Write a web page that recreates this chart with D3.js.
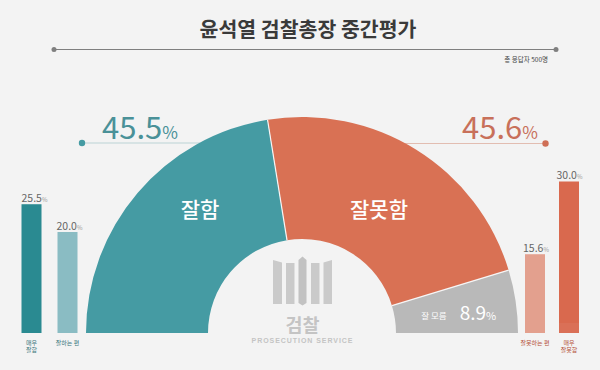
<!DOCTYPE html>
<html>
<head>
<meta charset="utf-8">
<script src="https://cdn.jsdelivr.net/npm/d3@7"></script>
<style>
  html, body { margin: 0; padding: 0; background: #f3f3f3; }
  svg { display: block; }
  text { font-family: "Noto Sans CJK KR", "Noto Sans", sans-serif; }
</style>
</head>
<body>
<script>
//main half donut data
var mainNames = ["잘함", "잘못함", "잘 모름"];
var mainValues = [45.5, 45.6, 8.9];
//the slices in the picture are not drawn quite to the printed numbers, these are the shares as drawn
var mainDrawn = [44.9, 45.7, 9.4];

//detail bars data
var barNames = ["매우 잘함", "잘하는 편", "잘못하는 편", "매우 잘못함"];
var barValues = [25.5, 20.0, 15.6, 30.0];
var barLines = [["매우", "잘함"], ["잘하는 편"], ["잘못하는 편"], ["매우", "잘못함"]];

var title = "윤석열 검찰총장 중간평가";
var sampleNote = "총 응답자 500명";
var logoName = "검찰";
var logoSub = "PROSECUTION SERVICE";

var width = 600, height = 370;
var baseY = 333;
var rInner = 94, rOuter = 216;

var mainColor = d3.scaleOrdinal().domain(mainNames).range(["#459ba3", "#d97154", "#b9b9b9"]);
var barColor = d3.scaleOrdinal().domain(barNames).range(["#2a8a91", "#8abcc3", "#e3a08e", "#d9694e"]);
var barText = d3.scaleOrdinal().domain(barNames).range(["#3a767c", "#3a767c", "#b5523a", "#b5523a"]);
var barX = d3.scaleOrdinal().domain(barNames).range([21.5, 57.5, 525, 559]);
var valueX = d3.scaleOrdinal().domain(barNames).range([21.5, 56.5, 523, 556.5]);
var barY = d3.scaleLinear().domain([0, 30]).range([baseY, 181.5]);
var barWidth = 20;

const svg = d3.select("body")
    .append("svg")
    .attr("width", width)
    .attr("height", height);

svg.append("rect")
    .attr("width", width)
    .attr("height", height)
    .attr("fill", "#f3f3f3");

//title and rule
svg.append("text")
    .attr("x", 308)
    .attr("y", 36.5)
    .attr("text-anchor", "middle")
    .attr("font-size", 20.5)
    .attr("font-weight", 700)
    .attr("fill", "#3a3a3a")
    .text(title);

svg.append("line")
    .attr("x1", 54).attr("x2", 556)
    .attr("y1", 49.5).attr("y2", 49.5)
    .attr("stroke", "#7f7f7f")
    .attr("stroke-width", 1);

svg.selectAll(".ruleDot")
    .data([54, 556])
    .enter().append("circle")
    .attr("class", "ruleDot")
    .attr("cx", d => d)
    .attr("cy", 49.5)
    .attr("r", 2.5)
    .attr("fill", "#7f7f7f");

svg.append("text")
    .attr("x", 548)
    .attr("y", 62)
    .attr("text-anchor", "end")
    .attr("font-size", 6.5)
    .attr("fill", "#444")
    .text(sampleNote);

//leader lines sit under the donut
var leaders = [
    {x1: 82, x2: 200, y: 143, color: "#bcd4d6", dot: "#459ba3"},
    {x1: 545.5, x2: 405, y: 143.5, color: "#e2bdb1", dot: "#cf6f56"}
];

svg.selectAll(".leader")
    .data(leaders)
    .enter().append("line")
    .attr("class", "leader")
    .attr("x1", d => d.x1).attr("x2", d => d.x2)
    .attr("y1", d => d.y).attr("y2", d => d.y)
    .attr("stroke", d => d.color)
    .attr("stroke-width", 1.2);

svg.selectAll(".leaderDot")
    .data(leaders)
    .enter().append("circle")
    .attr("class", "leaderDot")
    .attr("cx", d => d.x1)
    .attr("cy", d => d.y)
    .attr("r", 3.2)
    .attr("fill", d => d.dot);

//half donut
var pie = d3.pie()
    .sort(null)
    .startAngle(-Math.PI / 2)
    .endAngle(Math.PI / 2);

var arc = d3.arc()
    .innerRadius(rInner)
    .outerRadius(rOuter);

var donut = svg.append("g")
    .attr("transform", `translate(302,${baseY})`);

donut.selectAll("path")
    .data(pie(mainDrawn))
    .enter().append("path")
    .attr("d", arc)
    .attr("fill", (d, i) => mainColor(mainNames[i]));

//separators between the slices
donut.selectAll("line")
    .data(pie(mainDrawn).slice(1))
    .enter().append("line")
    .attr("x1", d => rInner * Math.sin(d.startAngle))
    .attr("y1", d => -rInner * Math.cos(d.startAngle))
    .attr("x2", d => rOuter * Math.sin(d.startAngle))
    .attr("y2", d => -rOuter * Math.cos(d.startAngle))
    .attr("stroke", "#f6f6f6")
    .attr("stroke-width", 1.2);

//big percentages
function percent(x, y, value, size, pctSize, color) {
    var t = svg.append("text")
        .attr("x", x)
        .attr("y", y)
        .attr("text-anchor", "middle")
        .attr("fill", color);
    t.append("tspan")
        .attr("font-size", size)
        .text(value.toFixed(1));
    t.append("tspan")
        .attr("font-size", pctSize)
        .text("%");
}

percent(140, 138.5, mainValues[0], 31, 17, "#4a9198");
percent(500, 138.5, mainValues[1], 31, 17, "#c8705a");
percent(478, 319.5, mainValues[2], 19, 11, "#ffffff");

//names on the slices
svg.append("text")
    .attr("x", 200).attr("y", 216.5)
    .attr("text-anchor", "middle")
    .attr("font-size", 21)
    .attr("font-weight", 500)
    .attr("fill", "#fff")
    .text(mainNames[0]);

svg.append("text")
    .attr("x", 379).attr("y", 216.5)
    .attr("text-anchor", "middle")
    .attr("font-size", 21)
    .attr("font-weight", 500)
    .attr("fill", "#fff")
    .text(mainNames[1]);

svg.append("text")
    .attr("x", 434).attr("y", 318.5)
    .attr("text-anchor", "middle")
    .attr("font-size", 8.5)
    .attr("fill", "#fff")
    .text(mainNames[2]);

//detail bars
svg.selectAll(".bar")
    .data(barValues)
    .enter().append("rect")
    .attr("class", "bar")
    .attr("x", (d, i) => barX(barNames[i]))
    .attr("y", d => barY(d))
    .attr("width", barWidth)
    .attr("height", d => baseY - barY(d))
    .attr("fill", (d, i) => barColor(barNames[i]));

//faint light band at the foot of the last bar
svg.append("rect")
    .attr("x", barX(barNames[3]))
    .attr("y", barY(2))
    .attr("width", barWidth)
    .attr("height", baseY - barY(2))
    .attr("fill", "#fff")
    .attr("opacity", 0.05);

barValues.forEach(function(v, i) {
    var t = svg.append("text")
        .attr("x", valueX(barNames[i]))
        .attr("y", barY(v) - 2.5)
        .attr("fill", "#666");
    t.append("tspan").attr("font-size", 10.5).text(v.toFixed(1));
    t.append("tspan").attr("font-size", 6).attr("fill", "#999").text("%");

    barLines[i].forEach(function(line, j) {
        svg.append("text")
            .attr("x", barX(barNames[i]) + barWidth / 2)
            .attr("y", 344.5 + j * 7.7)
            .attr("text-anchor", "middle")
            .attr("font-size", 6)
            .attr("fill", barText(barNames[i]))
            .text(line);
    });
});

//prosecution logo
var logoCols = [
    {d: "M273,260 L282,262.5 V304 H273 Z", fill: "#cacaca"},
    {d: "M286,263 H294.5 V304 H286 Z", fill: "#cacaca"},
    {d: "M298.5,260 L302.5,256.5 L306.5,260 V303 L302.5,305.5 L298.5,303 Z", fill: "#c2c2c2"},
    {d: "M311,263 H319.5 V304 H311 Z", fill: "#cacaca"},
    {d: "M323.5,262.5 L332,260 V304 H323.5 Z", fill: "#cacaca"}
];

svg.append("g")
    .selectAll("path")
    .data(logoCols)
    .enter().append("path")
    .attr("d", d => d.d)
    .attr("fill", d => d.fill);

svg.append("text")
    .attr("x", 302.5).attr("y", 331.5)
    .attr("text-anchor", "middle")
    .attr("font-size", 18.5)
    .attr("font-weight", 700)
    .attr("fill", "#c4c4c4")
    .text(logoName);

svg.append("text")
    .attr("x", 302.5).attr("y", 342.5)
    .attr("text-anchor", "middle")
    .attr("font-size", 7)
    .attr("font-weight", 700)
    .attr("letter-spacing", 0.95)
    .style("font-family", "'Liberation Sans', sans-serif")
    .attr("fill", "#c4c4c4")
    .text(logoSub);
</script>
</body>
</html>
